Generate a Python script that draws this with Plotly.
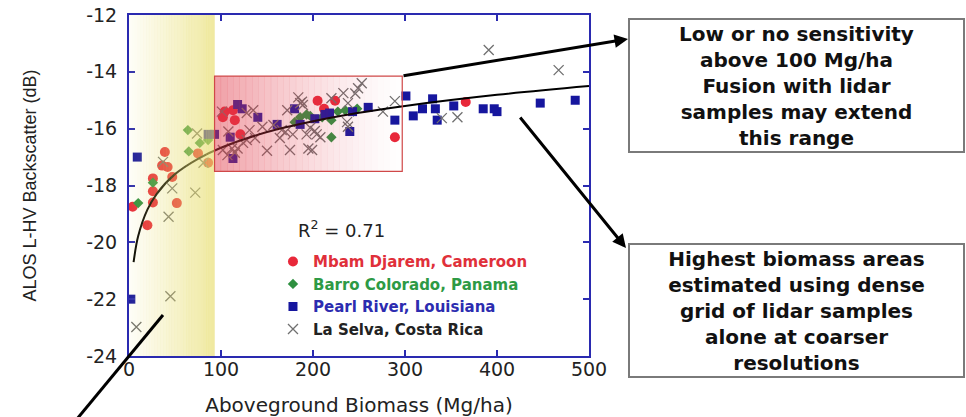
import plotly.graph_objects as go

# ---- data: ALOS L-HV backscatter (dB) vs aboveground biomass (Mg/ha) ----
mbam_x = [4, 20, 26, 26, 26, 36, 39, 42, 47, 52, 75, 86, 102, 104, 113, 115, 121,
          205, 212, 224, 289, 366]
mbam_y = [-18.75, -19.4, -18.6, -18.2, -17.75, -17.3, -16.82, -17.35, -17.7, -18.62,
          -16.87, -17.2, -15.6, -15.4, -15.35, -15.7, -16.2, -15.02, -15.3, -15.02,
          -16.3, -15.06]

barro_x = [10, 26, 64, 65, 77, 86, 180, 186, 193, 197, 210, 220, 220, 227, 235, 244, 248]
barro_y = [-18.62, -17.9, -16.05, -16.8, -16.5, -16.4, -15.77, -15.6, -15.5, -15.55,
           -15.6, -15.7, -16.3, -15.4, -15.35, -15.4, -15.3]

pearl_x = [2, 9, 86, 93, 110, 113, 118, 123, 140, 161, 180, 186, 202, 213, 218, 240,
           243, 260, 289, 301, 309, 319, 330, 333, 335, 353, 385, 397, 400, 447, 485]
pearl_y = [-22.0, -17.0, -16.2, -16.2, -16.3, -17.05, -15.15, -15.3, -15.6, -15.85,
           -15.3, -15.85, -15.65, -15.5, -15.45, -16.1, -15.4, -15.25, -15.7, -14.85,
           -15.55, -15.3, -14.95, -15.3, -15.7, -15.2, -15.3, -15.3, -15.4, -15.1, -15.0]

selva_x = [8, 43, 45, 37, 47, 72, 74, 81,
           101, 102, 107, 108, 112, 115, 118, 124, 128, 128, 131, 135, 137, 145, 150,
           157, 164, 166, 170, 172, 175, 178, 184, 186, 188, 189, 193, 195, 197, 199,
           202, 204, 208, 220, 233, 237, 238, 238, 246, 249, 253, 276, 289,
           340, 357, 391, 467]
selva_y = [-22.98, -19.1, -21.9, -17.17, -18.1, -18.25, -16.17, -17.2,
           -15.4, -16.75, -16.93, -16.1, -16.7, -16.85, -16.7, -16.5, -15.45, -16.4,
           -16.05, -15.35, -16.33, -15.93, -16.78, -15.87, -16.33, -16.05, -16.12,
           -15.35, -16.75, -16.2, -14.9, -15.1, -15.05, -15.17, -16.2, -16.7, -15.97,
           -16.75, -16.08, -16.2, -16.3, -14.93, -14.75, -15.77, -15.93, -15.1, -14.76,
           -14.58, -14.4, -15.4, -15.03, -15.63, -15.6, -13.23, -13.94]

# logarithmic fit curve, read along its length
fit_x = [5, 10, 20, 30, 50, 75, 100, 150, 200, 250, 300, 400, 500]
fit_y = [-20.7, -19.78, -18.85, -18.3, -17.6, -17.06, -16.67, -16.12, -15.74,
         -15.44, -15.2, -14.81, -14.5]

x_ticks = [0, 100, 200, 300, 400, 500]
y_ticks = [-24, -22, -20, -18, -16, -14, -12]
y_tick_text = ["-24", "-22", "-20", "-18", "-16", "-14", "-12"]

r_squared = 0.71

# shaded regions
low_zone = (0, 93)                      # low-biomass band (x range)
sat_box = (93, 297, -17.5, -14.15)      # saturation box (x0, x1, y0, y1)

AXIS_BLUE = "#2a2ab0"
FONT_H = "DejaVu Sans"

fig = go.Figure()

fig.add_trace(go.Scatter(
    x=mbam_x, y=mbam_y, mode="markers",
    name="<b><span style='color:#e0303a'>Mbam Djarem, Cameroon</span></b>",
    marker=dict(symbol="circle", size=10, color="#e8283a")))
fig.add_trace(go.Scatter(
    x=barro_x, y=barro_y, mode="markers",
    name="<b><span style='color:#2e9a45'>Barro Colorado, Panama</span></b>",
    marker=dict(symbol="diamond", size=8, color="#2e9040")))
fig.add_trace(go.Scatter(
    x=pearl_x, y=pearl_y, mode="markers",
    name="<b><span style='color:#2c2cb0'>Pearl River, Louisiana</span></b>",
    marker=dict(symbol="square", size=9, color="#16169e")))
fig.add_trace(go.Scatter(
    x=selva_x, y=selva_y, mode="markers",
    name="<b><span style='color:#222'>La Selva, Costa Rica</span></b>",
    marker=dict(symbol="x-thin-open", size=10, color="#707070",
                line=dict(color="#707070", width=1.3))))
fig.add_trace(go.Scatter(
    x=fit_x, y=fit_y, mode="lines", showlegend=False,
    line=dict(color="black", width=2, shape="spline")))

# yellow gradient band over the low-biomass range
n_strips = 30
x0, x1 = low_zone
for i in range(n_strips):
    a = 0.06 + 0.60 * (i / (n_strips - 1)) ** 1.1
    fig.add_shape(type="rect", xref="x", yref="y",
                  x0=x0 + (x1 - x0) * i / n_strips,
                  x1=x0 + (x1 - x0) * (i + 1) / n_strips + 0.2,
                  y0=-24, y1=-12, layer="above",
                  fillcolor=f"rgba(232,222,112,{a:.3f})", line=dict(width=0))

# pink gradient box marking the saturation zone
bx0, bx1, by0, by1 = sat_box
for i in range(n_strips):
    a = 0.48 * (1 - i / n_strips) ** 1.4
    fig.add_shape(type="rect", xref="x", yref="y",
                  x0=bx0 + (bx1 - bx0) * i / n_strips,
                  x1=bx0 + (bx1 - bx0) * (i + 1) / n_strips + 0.3,
                  y0=by0, y1=by1, layer="above",
                  fillcolor=f"rgba(225,60,75,{a:.3f})", line=dict(width=0))
fig.add_shape(type="rect", xref="x", yref="y", x0=bx0, x1=bx1, y0=by0, y1=by1,
              layer="above", line=dict(color="#d04848", width=1.2))

# pointer line towards the lower left
fig.add_shape(type="line", xref="paper", yref="paper",
              x0=0.0739, y0=0.1202, x1=-0.1239, y1=-0.2023,
              line=dict(color="black", width=3))

# R^2 label
fig.add_annotation(xref="paper", yref="paper", x=0.462, y=0.332,
                   text=f"R<sup>2</sup> = {r_squared}", showarrow=False,
                   font=dict(family=FONT_H, size=18, color="#222"))

# callout boxes
note_font = dict(family=FONT_H, size=20, color="#111")
fig.add_annotation(xref="paper", yref="paper", x=1.452, y=0.792,
                   xanchor="center", yanchor="middle",
                   text="<b>Low or no sensitivity<br>above 100 Mg/ha<br>"
                        "Fusion with lidar<br>samples may extend<br>this range</b>",
                   showarrow=False, width=329, height=127, borderpad=2,
                   bordercolor="#7a7a7a", borderwidth=2, bgcolor="white",
                   font=note_font, align="center")
fig.add_annotation(xref="paper", yref="paper", x=1.452, y=0.132,
                   xanchor="center", yanchor="middle",
                   text="<b>Highest biomass areas<br>estimated using dense<br>"
                        "grid of lidar samples<br>alone at coarser<br>resolutions</b>",
                   showarrow=False, width=329, height=127, borderpad=2,
                   bordercolor="#7a7a7a", borderwidth=2, bgcolor="white",
                   font=note_font, align="center")

# arrows into the callouts
fig.add_annotation(xref="paper", yref="paper", x=1.0848, y=0.9296, text="",
                   showarrow=True, ax=-226, ay=37, arrowhead=2, arrowsize=0.9,
                   arrowwidth=3, arrowcolor="black")
fig.add_annotation(xref="paper", yref="paper", x=1.0804, y=0.3167, text="",
                   showarrow=True, ax=-107, ay=-132, arrowhead=2, arrowsize=0.9,
                   arrowwidth=3, arrowcolor="black")

axis_common = dict(showline=True, linecolor=AXIS_BLUE, linewidth=2, mirror="ticks",
                   ticks="inside", tickcolor=AXIS_BLUE, ticklen=6, tickwidth=1.5,
                   showgrid=False, zeroline=False,
                   tickfont=dict(family=FONT_H, size=19, color="#222"))

fig.update_xaxes(range=[0, 500], tickvals=x_ticks, ticklabelstandoff=-5, **axis_common,
                 title=dict(text="Aboveground Biomass (Mg/ha)", standoff=24,
                            font=dict(family=FONT_H, size=20, color="#222")))
fig.update_yaxes(range=[-24, -12], tickvals=y_ticks, ticktext=y_tick_text,
                 ticklabelstandoff=6, **axis_common,
                 title=dict(text="ALOS L-HV Backscatter (dB)", standoff=45,
                            font=dict(family="Liberation Sans", size=18, color="#222")))

fig.update_layout(
    width=966, height=417,
    margin=dict(l=129, r=377, t=15, b=61, autoexpand=False),
    paper_bgcolor="white", plot_bgcolor="white",
    showlegend=True,
    legend=dict(x=0.313, y=0.325, xanchor="left", yanchor="top",
                bgcolor="rgba(0,0,0,0)", borderwidth=0,
                font=dict(family=FONT_H, size=15), itemwidth=30,
                tracegroupgap=0),
)

fig.write_html("out.html")
